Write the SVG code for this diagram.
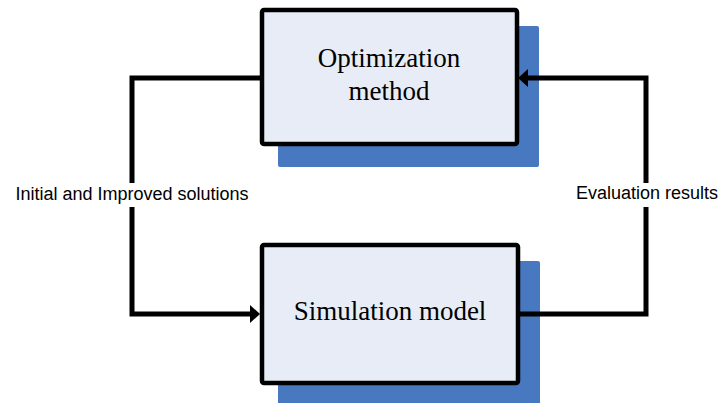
<svg xmlns="http://www.w3.org/2000/svg" width="719" height="403" viewBox="0 0 719 403">
  <style>
    .shadow { fill: #4878C0; }
    .box { fill: #E7ECF7; stroke: #000; stroke-width: 4.5; }
    .title { font-family: "Liberation Serif", serif; font-size: 27px; fill: #000; text-anchor: middle; }
    .conn { fill: none; stroke: #000; stroke-width: 5; stroke-linejoin: miter; }
    .lbl { font-family: "Liberation Sans", Arial, sans-serif; font-size: 18px; fill: #000; text-anchor: middle; }
    .lblbg { fill: #fff; }
  </style>
  <defs>
    <marker id="arrow" markerUnits="userSpaceOnUse" markerWidth="12" markerHeight="20" refX="2" refY="9" orient="auto">
      <path d="M0,0 L10,9 L0,18 Z" fill="#000"/>
    </marker>
  </defs>
  <rect width="719" height="403" fill="#fff"/>
  <g id="node-optimization">
    <rect class="shadow" x="278" y="26" width="261" height="141" rx="2"/>
    <rect class="box" x="262" y="10" width="255" height="134" rx="2"/>
    <text class="title" x="389" y="67">Optimization</text>
    <text class="title" x="389" y="100">method</text>
  </g>
  <g id="node-simulation">
    <rect class="shadow" x="278" y="261" width="262" height="145" rx="2"/>
    <rect class="box" x="262" y="245" width="256" height="138" rx="2"/>
    <text class="title" x="390" y="320">Simulation model</text>
  </g>
  <g id="connectors">
    <path class="conn" d="M260,78 H132 V314 H252" marker-end="url(#arrow)"/>
    <path class="conn" d="M520,314 H646 V78 H526" marker-end="url(#arrow)"/>
    <g id="label-left">
      <rect class="lblbg" x="14" y="183" width="236" height="24"/>
      <text class="lbl" x="132" y="200">Initial and Improved solutions</text>
    </g>
    <g id="label-right">
      <rect class="lblbg" x="576" y="183" width="143" height="24"/>
      <text class="lbl" x="647" y="199">Evaluation results</text>
    </g>
  </g>
</svg>
